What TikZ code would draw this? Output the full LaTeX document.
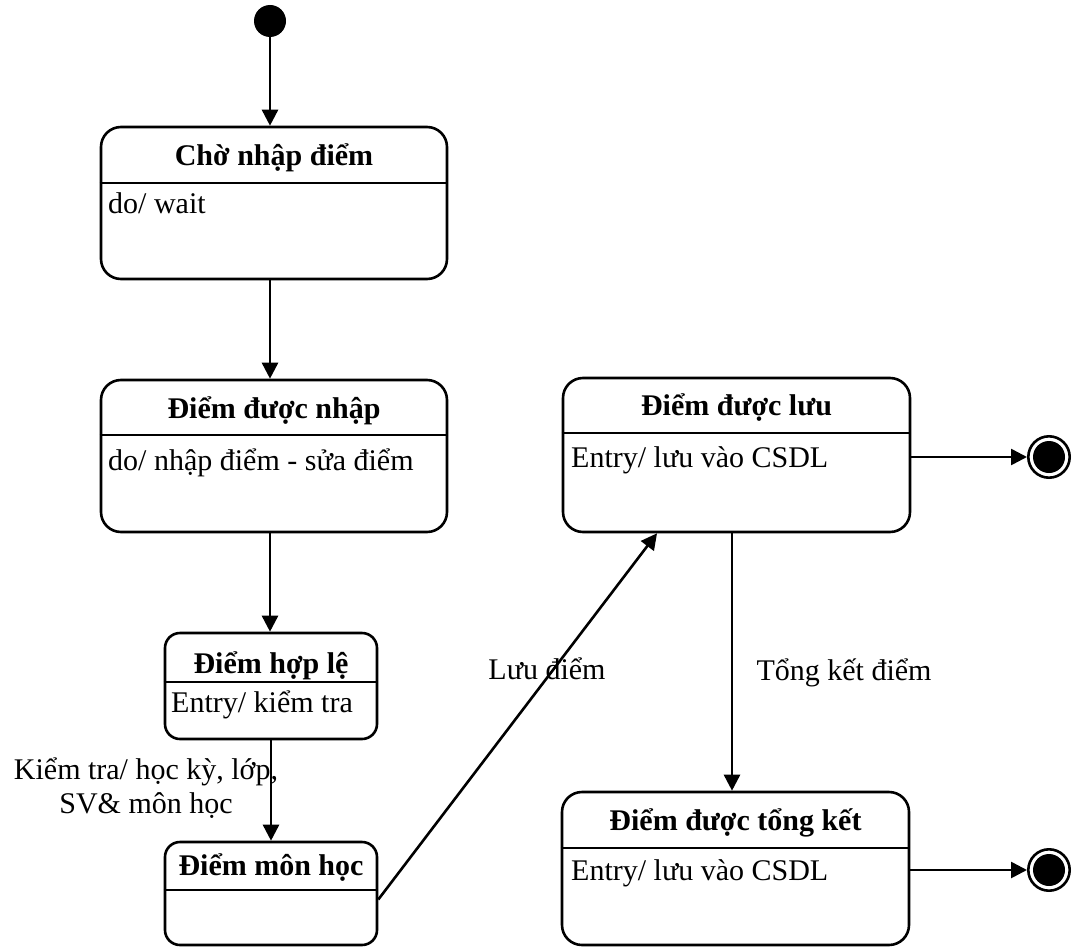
\documentclass[tikz,border=0pt]{standalone}
\usepackage{fontspec}
\setmainfont{Liberation Serif}
\usetikzlibrary{arrows.meta}
\begin{document}
\begin{tikzpicture}[x=1pt,y=-1pt,
  every node/.style={font=\fontsize{30}{34}\selectfont},
  state/.style={draw,line width=2.6pt,rounded corners=20pt,inner sep=0pt},
  smallstate/.style={state,rounded corners=15pt},
  arr/.style={line width=2.6pt,-{Triangle[length=16pt,width=16pt]}},
  divider/.style={line width=2.6pt},
  title/.style={anchor=base,font=\fontsize{30}{34}\selectfont\bfseries},
  act/.style={anchor=base west,inner sep=0pt},
  lbl/.style={inner sep=0pt},
  initial/.style={circle,fill=black,minimum size=32pt,inner sep=0pt},
  final/.style={circle,draw,line width=2.6pt,minimum size=41.4pt,inner sep=0pt,
    path picture={\fill[black] (path picture bounding box.center) circle[radius=16pt];}}]
\useasboundingbox (0,0) rectangle (1078,947);

% initial pseudo-state
\node[initial] (init) at (270,21) {};

% states
\node[state,minimum width=346pt,minimum height=152pt] (b1) at (274,203) {};
\draw[divider] (b1.west |- 0,183) -- (b1.east |- 0,183);
\node[title] (t1) at (274,165) {Chờ nhập điểm};
\node[act] (a1) at (108,213) {do/ wait};

\node[state,minimum width=346pt,minimum height=152pt] (b2) at (274,456) {};
\draw[divider] (b2.west |- 0,435) -- (b2.east |- 0,435);
\node[title] (t2) at (274,418) {Điểm được nhập};
\node[act] (a2) at (108,470) {do/ nhập điểm - sửa điểm};

\node[smallstate,minimum width=212pt,minimum height=106pt] (b3) at (271,686) {};
\draw[divider] (b3.west |- 0,682) -- (b3.east |- 0,682);
\node[title] (t3) at (271,673) {Điểm hợp lệ};
\node[act] (a3) at (171,712) {Entry/ kiểm tra};

\node[smallstate,minimum width=212pt,minimum height=103pt] (b4) at (271,893.5) {};
\draw[divider] (b4.west |- 0,890) -- (b4.east |- 0,890);
\node[title] (t4) at (271,875) {Điểm môn học};

\node[state,minimum width=347pt,minimum height=154pt] (b5) at (736.5,455) {};
\draw[divider] (b5.west |- 0,433) -- (b5.east |- 0,433);
\node[title] (t5) at (736.5,415) {Điểm được lưu};
\node[act] (a5) at (571,467) {Entry/ lưu vào CSDL};

\node[state,minimum width=347pt,minimum height=153pt] (b6) at (735.5,868.5) {};
\draw[divider] (b6.west |- 0,848) -- (b6.east |- 0,848);
\node[title] (t6) at (735.5,830) {Điểm được tổng kết};
\node[act] (a6) at (571,880) {Entry/ lưu vào CSDL};

% final states
\node[final] (f1) at (1049,457) {};
\node[final] (f2) at (1049,870) {};

% transitions
\draw[arr] (init) -- (init |- b1.north);
\draw[arr] (b1.south -| init) -- (b2.north -| init);
\draw[arr] (b2.south -| init) -- (b3.north -| init);
\draw[arr] (b3.south) -- (b4.north);
\draw[arr] ([yshift=-6pt]b4.east) -- ([xshift=-79.5pt]b5.south);
\draw[arr] ([xshift=-4.5pt,yshift=2pt]b5.south) -- ([xshift=-3.5pt]b6.north);
\draw[arr] (b5.east |- f1) -- (f1);
\draw[arr] (b6.east |- f2) -- (f2);

% transition labels
\node[lbl,align=center] (l1) at (146,788) {Kiểm tra/ học kỳ, lớp,\\SV\& môn học};
\node[lbl,anchor=base] (l2) at (547,679) {Lưu điểm};
\node[lbl,anchor=base] (l3) at (844,680) {Tổng kết điểm};
\end{tikzpicture}
\end{document}
